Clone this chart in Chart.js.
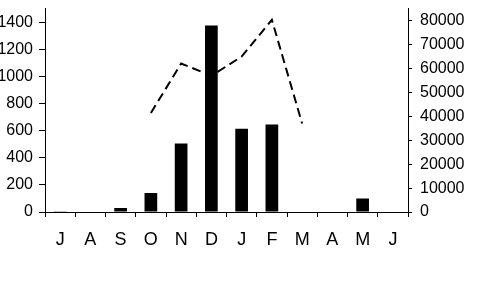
<!DOCTYPE html>
<html>
<head>
<meta charset="utf-8">
<script src="https://cdn.jsdelivr.net/npm/chart.js@4"></script>
<style>
  html, body { margin: 0; padding: 0; background: #fff; }
  #wrap { width: 494px; height: 286px; position: relative; }
</style>
</head>
<body>
<div id="wrap"><canvas id="chart"></canvas></div>
<script>
// Months (July to June) and the two series
const months = ['J', 'A', 'S', 'O', 'N', 'D', 'J', 'F', 'M', 'A', 'M', 'J'];
const barValues = [5, 0, 30, 140, 505, 1377, 614, 645, 0, 3, 99, 0];
const lineValues = [null, null, null, 41400, 62100, 57000, 65000, 80400, 37000, null, null, null];

// Tick labels on both value axes
const leftTicks = [0, 200, 400, 600, 800, 1000, 1200, 1400];
const rightTicks = [0, 10000, 20000, 30000, 40000, 50000, 60000, 70000, 80000];

const leftMax = 1500;
const rightMax = 85000;

const font = 'Liberation Sans, Arial, sans-serif';

new Chart(document.getElementById('chart'), {
    type: 'bar',
    data: {
        labels: months,
        datasets: [
            {
                type: 'bar',
                data: barValues,
                backgroundColor: '#000',
                borderWidth: 0,
                categoryPercentage: 1,
                barPercentage: 0.42,
                yAxisID: 'y',
                order: 1
            },
            {
                type: 'line',
                data: lineValues,
                borderColor: '#000',
                borderWidth: 2,
                borderDash: [9, 5],
                pointRadius: 0,
                tension: 0,
                fill: false,
                spanGaps: false,
                yAxisID: 'y2',
                order: 2
            }
        ]
    },
    options: {
        responsive: true,
        maintainAspectRatio: false,
        animation: false,
        layout: { padding: 0 },
        plugins: {
            legend: { display: false },
            tooltip: { enabled: false }
        },
        scales: {
            x: {
                grid: { drawOnChartArea: false, drawTicks: true, tickLength: 5, color: '#000', offset: true },
                border: { color: '#000', width: 1 },
                ticks: { color: '#000', font: { family: font, size: 18 }, padding: 12, maxRotation: 0 },
                afterFit: (s) => { s.height = 74; }
            },
            y: {
                position: 'left',
                min: 0,
                max: leftMax,
                grid: { drawOnChartArea: false, tickLength: 6, color: '#000' },
                border: { color: '#000', width: 1 },
                ticks: {
                    color: '#000', padding: 6,
                    font: { family: font, size: 16, lineHeight: 0.1 },
                    callback: (v) => String(v)
                },
                afterBuildTicks: (s) => { s.ticks = leftTicks.map(v => ({ value: v })); },
                afterFit: (s) => { s.width = 45; }
            },
            y2: {
                position: 'right',
                min: 0,
                max: rightMax,
                grid: { drawOnChartArea: false, tickLength: 4, color: '#000' },
                border: { color: '#000', width: 1 },
                ticks: {
                    color: '#000', padding: 8,
                    font: { family: font, size: 16, lineHeight: 0.1 },
                    callback: (v) => String(v)
                },
                afterBuildTicks: (s) => { s.ticks = rightTicks.map(v => ({ value: v })); },
                afterFit: (s) => { s.width = 86; }
            }
        }
    }
});
</script>
</body>
</html>
